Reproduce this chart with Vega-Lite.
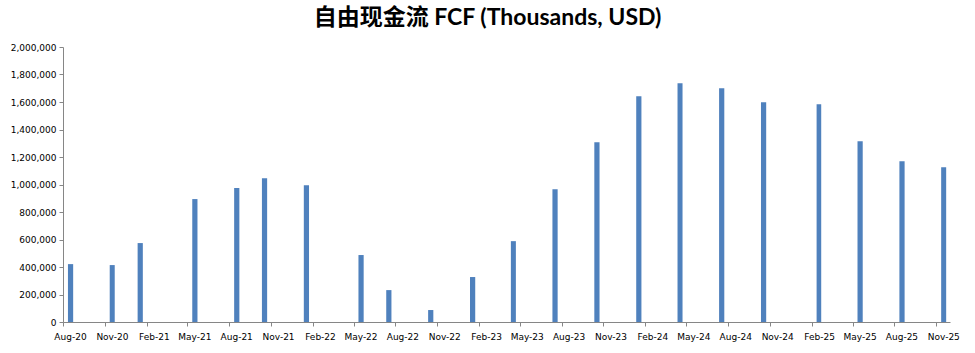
{
  "$schema": "https://vega.github.io/schema/vega-lite/v6.json",
  "autosize": "none",
  "padding": {"left": 63, "top": 47, "right": 25, "bottom": 31},
  "width": 887,
  "height": 275,
  "background": "white",
  "title": {
    "text": "自由现金流 FCF (Thousands, USD)",
    "font": "Lato, Noto Sans CJK SC",
    "fontSize": 23,
    "fontWeight": "bold",
    "color": "#000000",
    "anchor": "middle",
    "dx": -19,
    "offset": 13
  },
  "data": {
    "values": [
      {"date": "2020-08-01", "fcf": 421000},
      {"date": "2020-11-01", "fcf": 414000},
      {"date": "2021-01-01", "fcf": 574000},
      {"date": "2021-05-01", "fcf": 894000},
      {"date": "2021-08-01", "fcf": 974000},
      {"date": "2021-10-01", "fcf": 1046000},
      {"date": "2022-01-01", "fcf": 995000},
      {"date": "2022-05-01", "fcf": 487000},
      {"date": "2022-07-01", "fcf": 232000},
      {"date": "2022-10-01", "fcf": 87000},
      {"date": "2023-01-01", "fcf": 327000},
      {"date": "2023-04-01", "fcf": 588000},
      {"date": "2023-07-01", "fcf": 966000},
      {"date": "2023-10-01", "fcf": 1308000},
      {"date": "2024-01-01", "fcf": 1642000},
      {"date": "2024-04-01", "fcf": 1736000},
      {"date": "2024-07-01", "fcf": 1700000},
      {"date": "2024-10-01", "fcf": 1598000},
      {"date": "2025-02-01", "fcf": 1584000},
      {"date": "2025-05-01", "fcf": 1315000},
      {"date": "2025-08-01", "fcf": 1170000},
      {"date": "2025-11-01", "fcf": 1126000}
    ]
  },
  "mark": {"type": "bar", "color": "#4F81BD", "width": {"band": 0.44}},
  "encoding": {
    "x": {
      "field": "date",
      "type": "temporal",
      "timeUnit": "utcyearmonth",
      "title": null,
      "scale": {"type": "utc", "domain": [{"year": 2020, "month": 8, "date": 1, "utc": true}, {"year": 2025, "month": 12, "date": 1, "utc": true}]},
      "axis": {
        "values": [
          {"year": 2020, "month": 8, "date": 1, "utc": true},
          {"year": 2020, "month": 11, "date": 1, "utc": true},
          {"year": 2021, "month": 2, "date": 1, "utc": true},
          {"year": 2021, "month": 5, "date": 1, "utc": true},
          {"year": 2021, "month": 8, "date": 1, "utc": true},
          {"year": 2021, "month": 11, "date": 1, "utc": true},
          {"year": 2022, "month": 2, "date": 1, "utc": true},
          {"year": 2022, "month": 5, "date": 1, "utc": true},
          {"year": 2022, "month": 8, "date": 1, "utc": true},
          {"year": 2022, "month": 11, "date": 1, "utc": true},
          {"year": 2023, "month": 2, "date": 1, "utc": true},
          {"year": 2023, "month": 5, "date": 1, "utc": true},
          {"year": 2023, "month": 8, "date": 1, "utc": true},
          {"year": 2023, "month": 11, "date": 1, "utc": true},
          {"year": 2024, "month": 2, "date": 1, "utc": true},
          {"year": 2024, "month": 5, "date": 1, "utc": true},
          {"year": 2024, "month": 8, "date": 1, "utc": true},
          {"year": 2024, "month": 11, "date": 1, "utc": true},
          {"year": 2025, "month": 2, "date": 1, "utc": true},
          {"year": 2025, "month": 5, "date": 1, "utc": true},
          {"year": 2025, "month": 8, "date": 1, "utc": true},
          {"year": 2025, "month": 11, "date": 1, "utc": true}
        ],
        "labelExpr": "utcFormat(datum.value, '%b-%y')",
        "labelOffset": 7,
        "labelFont": "DejaVu Sans",
        "labelFontSize": 9,
        "labelColor": "#000000",
        "labelPadding": 6,
        "labelAngle": 0,
        "labelOverlap": false,
        "labelFlush": false,
        "tickSize": 4,
        "tickColor": "#868686",
        "domainColor": "#868686",
        "grid": false
      }
    },
    "y": {
      "field": "fcf",
      "type": "quantitative",
      "title": null,
      "scale": {"domain": [0, 2000000], "nice": false},
      "axis": {
        "values": [0, 200000, 400000, 600000, 800000, 1000000, 1200000, 1400000, 1600000, 1800000, 2000000],
        "labelExpr": "format(datum.value, ',.0f')",
        "labelFont": "DejaVu Sans",
        "labelFontSize": 9,
        "labelColor": "#000000",
        "labelPadding": 3,
        "tickSize": 4,
        "tickColor": "#868686",
        "domainColor": "#868686",
        "grid": false
      }
    }
  },
  "config": {"view": {"stroke": null}}
}
